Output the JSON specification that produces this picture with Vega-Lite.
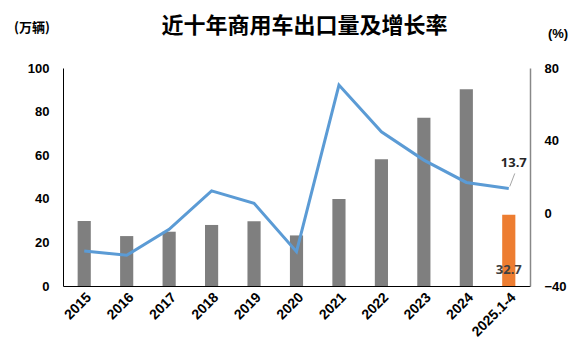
{
  "$schema": "https://vega.github.io/schema/vega-lite/v6.json",
  "autosize": {"type": "none"},
  "width": 467,
  "height": 218,
  "padding": {"left": 63, "top": 68, "right": 55, "bottom": 73},
  "background": "white",
  "title": {
    "text": "近十年商用车出口量及增长率",
    "font": "Noto Sans CJK SC",
    "fontSize": 22,
    "fontWeight": "bold",
    "color": "#000000",
    "anchor": "middle",
    "frame": "group",
    "dx": 8,
    "baseline": "middle",
    "offset": -27
  },
  "config": {
    "view": {"stroke": null},
    "axis": {"grid": false, "ticks": false, "labelFont": "Liberation Sans", "labelFontWeight": "bold", "labelFontSize": 13, "labelColor": "#000000"}
  },
  "data": {
    "values": [
      {"period": "2015", "volume": 29.8, "rate": -20.7, "kind": "year"},
      {"period": "2016", "volume": 22.9, "rate": -23.1, "kind": "year"},
      {"period": "2017", "volume": 24.9, "rate": -8.8, "kind": "year"},
      {"period": "2018", "volume": 28.0, "rate": 12.4, "kind": "year"},
      {"period": "2019", "volume": 29.7, "rate": 5.5, "kind": "year"},
      {"period": "2020", "volume": 23.2, "rate": -21.1, "kind": "year"},
      {"period": "2021", "volume": 39.9, "rate": 70.6, "kind": "year"},
      {"period": "2022", "volume": 58.1, "rate": 44.9, "kind": "year"},
      {"period": "2023", "volume": 77.2, "rate": 29.3, "kind": "year"},
      {"period": "2024", "volume": 90.2, "rate": 17.0, "kind": "year"},
      {"period": "2025.1-4", "volume": 32.7, "rate": 13.7, "kind": "partial"}
    ]
  },
  "encoding": {
    "x": {
      "field": "period",
      "type": "ordinal",
      "sort": null,
      "scale": {"paddingInner": 0.69, "paddingOuter": 0.345},
      "axis": {"title": null, "labelAngle": -45, "labelFontSize": 14, "domainColor": "#000000", "labelPadding": 4}
    }
  },
  "layer": [
    {
      "layer": [
        {
          "mark": {"type": "bar"},
          "encoding": {
            "y": {
              "field": "volume",
              "type": "quantitative",
              "scale": {"domain": [0, 100]},
              "axis": {
                "title": "(万辆)",
                "titleFont": "Noto Sans CJK SC",
                "titleFontSize": 13,
                "titleFontWeight": "bold",
                "titleColor": "#000000",
                "titleAngle": 0,
                "titleAlign": "center",
                "titleBaseline": "middle",
                "titleX": -31.5,
                "titleY": -41,
                "values": [0, 20, 40, 60, 80, 100],
                "domainColor": "#000000",
                "labelPadding": 14
              }
            },
            "color": {
              "field": "kind",
              "type": "nominal",
              "scale": {"domain": ["year", "partial"], "range": ["#7f7f7f", "#ed7d31"]},
              "legend": null
            }
          }
        },
        {
          "transform": [{"filter": "datum.kind == 'partial'"}],
          "mark": {"type": "text", "font": "Open Sans", "fontSize": 13, "fontWeight": "bold", "color": "#404040", "baseline": "middle", "dy": -16},
          "encoding": {
            "y": {"datum": 0, "type": "quantitative", "scale": {"domain": [0, 100]}},
            "text": {"field": "volume", "type": "quantitative", "format": ".1f"}
          }
        }
      ]
    },
    {
      "layer": [
        {
          "mark": {"type": "line", "color": "#5b9bd5", "strokeWidth": 3},
          "encoding": {
            "y": {
              "field": "rate",
              "type": "quantitative",
              "scale": {"domain": [-40, 80]},
              "axis": {
                "orient": "right",
                "title": "(%)",
                "titleFont": "Liberation Sans",
                "titleFontSize": 13,
                "titleFontWeight": "bold",
                "titleColor": "#000000",
                "titleAngle": 0,
                "titleAlign": "center",
                "titleBaseline": "middle",
                "titleX": 27.5,
                "titleY": -35,
                "values": [-40, 0, 40, 80],
                "domainColor": "#888888",
                "domainWidth": 1.5,
                "labelPadding": 14
              }
            }
          }
        },
        {
          "transform": [{"filter": "datum.kind == 'partial'"}],
          "mark": {"type": "rule", "color": "#a6a6a6", "strokeWidth": 1, "xOffset": 1, "yOffset": -2, "x2Offset": 6, "y2Offset": -15},
          "encoding": {
            "y": {"field": "rate", "type": "quantitative", "scale": {"domain": [-40, 80]}},
            "y2": {"field": "rate"},
            "x2": {"field": "period"}
          }
        },
        {
          "transform": [{"filter": "datum.kind == 'partial'"}],
          "mark": {"type": "text", "font": "Open Sans", "fontSize": 13, "fontWeight": "bold", "color": "#262626", "baseline": "middle", "dx": 5, "dy": -25},
          "encoding": {
            "y": {"field": "rate", "type": "quantitative", "scale": {"domain": [-40, 80]}},
            "text": {"field": "rate", "type": "quantitative", "format": ".1f"}
          }
        }
      ]
    }
  ],
  "resolve": {"scale": {"y": "independent"}}
}
